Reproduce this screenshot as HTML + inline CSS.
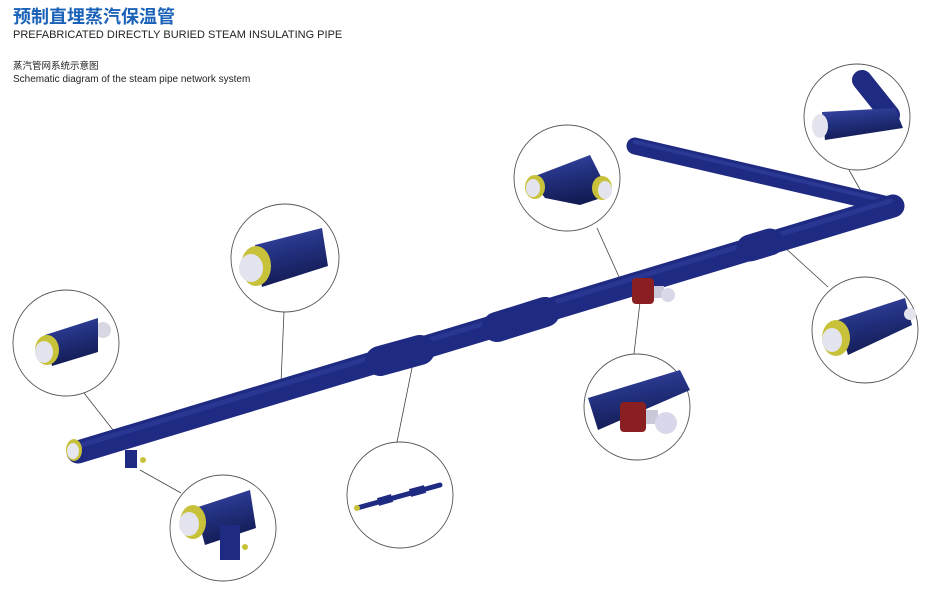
<!DOCTYPE html>
<html><head><meta charset="utf-8"><style>
html,body{margin:0;padding:0;background:#fff;width:934px;height:600px;overflow:hidden}
svg{display:block}
</style></head><body>
<svg width="934" height="600" viewBox="0 0 934 600" xmlns="http://www.w3.org/2000/svg">
<defs>
<linearGradient id="pg" x1="0" y1="0" x2="0.3" y2="1">
<stop offset="0" stop-color="#3a47a8"/><stop offset="0.5" stop-color="#22307e"/><stop offset="1" stop-color="#141c55"/>
</linearGradient>
</defs>
<text x="13" y="23" font-family="'Liberation Sans','Noto Sans CJK SC',sans-serif" font-size="18" font-weight="bold" fill="#1a62b8">预制直埋蒸汽保温管</text>
<text x="13" y="38" font-family="'Liberation Sans',sans-serif" font-size="11" fill="#222">PREFABRICATED DIRECTLY BURIED STEAM INSULATING PIPE</text>
<text x="13" y="69" font-family="'Liberation Sans','Noto Sans CJK SC',sans-serif" font-size="9.5" fill="#222">蒸汽管网系统示意图</text>
<text x="13" y="82" font-family="'Liberation Sans',sans-serif" font-size="10" fill="#222">Schematic diagram of the steam pipe network system</text>

<g stroke="#444" stroke-width="0.8" fill="none">
<line x1="84" y1="393" x2="113" y2="430"/>
<line x1="284" y1="311" x2="281" y2="383"/>
<line x1="597" y1="228" x2="620" y2="279"/>
<line x1="849" y1="170" x2="866" y2="200"/>
<line x1="828" y1="287" x2="782" y2="245"/>
<line x1="634" y1="354" x2="640" y2="302"/>
<line x1="397" y1="442" x2="413" y2="363"/>
<line x1="181" y1="493" x2="140" y2="470"/>
</g>

<g stroke-linecap="round" fill="none">
<line x1="635" y1="146" x2="893" y2="206" stroke="#1f2a82" stroke-width="17"/>
<line x1="635" y1="142" x2="890" y2="202" stroke="#3845a6" stroke-width="4" opacity="0.5"/>
<line x1="78" y1="452" x2="893" y2="206" stroke="#1f2a82" stroke-width="23"/>
<line x1="78" y1="446" x2="890" y2="201" stroke="#3a48aa" stroke-width="5" opacity="0.4"/>
<line x1="380" y1="361" x2="420" y2="350" stroke="#1f2a82" stroke-width="30"/>
<line x1="497" y1="327" x2="545" y2="312" stroke="#1f2a82" stroke-width="30"/>
<line x1="750" y1="248" x2="770" y2="242" stroke="#1f2a82" stroke-width="27"/>
<line x1="131" y1="450" x2="131" y2="468" stroke="#1f2a82" stroke-width="12" stroke-linecap="butt"/>
</g>
<ellipse cx="74" cy="450" rx="8" ry="11" fill="#c8c23a"/>
<ellipse cx="73" cy="451" rx="6" ry="8" fill="#e6e6ee"/>
<circle cx="143" cy="460" r="3" fill="#c8c23a"/>
<rect x="632" y="278" width="22" height="26" rx="4" fill="#8a1f22"/>
<rect x="654" y="286" width="10" height="12" fill="#c8c8d8"/>
<circle cx="668" cy="295" r="7" fill="#d8d8e8"/>

<g fill="#fff" stroke="#555" stroke-width="0.9">
<circle cx="66" cy="343" r="53"/>
<circle cx="285" cy="258" r="54"/>
<circle cx="567" cy="178" r="53"/>
<circle cx="857" cy="117" r="53"/>
<circle cx="865" cy="330" r="53"/>
<circle cx="637" cy="407" r="53"/>
<circle cx="400" cy="495" r="53"/>
<circle cx="223" cy="528" r="53"/>
</g>

<circle cx="103" cy="330" r="8" fill="#d8d8e4"/>
<polygon points="45,335 98,318 98,352 52,366" fill="url(#pg)"/>
<ellipse cx="47" cy="350" rx="12" ry="15" fill="#c8c23a"/>
<ellipse cx="44" cy="352" rx="9" ry="11" fill="#e4e4ee"/>
<polygon points="255,245 322,228 328,266 262,287" fill="url(#pg)"/>
<ellipse cx="256" cy="266" rx="15" ry="20" fill="#c8c23a"/>
<ellipse cx="251" cy="268" rx="12" ry="14" fill="#e4e4ee"/>
<polygon points="530,178 590,155 610,195 580,205 545,198" fill="url(#pg)"/>
<ellipse cx="535" cy="187" rx="10" ry="12" fill="#c8c23a"/>
<ellipse cx="533" cy="188" rx="7" ry="9" fill="#e4e4ee"/>
<ellipse cx="602" cy="188" rx="10" ry="12" fill="#c8c23a"/>
<ellipse cx="605" cy="190" rx="7" ry="9" fill="#e4e4ee"/>
<line x1="862" y1="80" x2="890" y2="115" stroke="#1f2a82" stroke-width="20" stroke-linecap="round"/>
<polygon points="822,112 895,108 903,128 825,140" fill="url(#pg)"/>
<ellipse cx="820" cy="126" rx="8" ry="12" fill="#e4e4ee"/>
<polygon points="838,320 905,298 912,325 848,355" fill="url(#pg)"/>
<ellipse cx="836" cy="338" rx="14" ry="18" fill="#c8c23a"/>
<ellipse cx="832" cy="340" rx="10" ry="12" fill="#e4e4ee"/>
<circle cx="910" cy="314" r="6" fill="#e4e4ee"/>
<polygon points="588,398 680,370 690,390 598,430" fill="url(#pg)"/>
<rect x="620" y="402" width="26" height="30" rx="4" fill="#8a1f22"/>
<rect x="646" y="410" width="12" height="14" fill="#c8c8d8"/>
<circle cx="666" cy="423" r="11" fill="#d8d8ea"/>
<line x1="357" y1="508" x2="440" y2="485" stroke="#1f2a82" stroke-width="5" stroke-linecap="round"/>
<line x1="378" y1="502" x2="392" y2="498" stroke="#1f2a82" stroke-width="8"/>
<line x1="410" y1="493" x2="425" y2="489" stroke="#1f2a82" stroke-width="8"/>
<circle cx="357" cy="508" r="3" fill="#c8c23a"/>
<polygon points="195,508 250,490 256,528 205,545" fill="url(#pg)"/>
<rect x="220" y="525" width="20" height="35" fill="#1f2a82"/>
<circle cx="245" cy="547" r="3" fill="#c8c23a"/>
<ellipse cx="193" cy="522" rx="13" ry="17" fill="#c8c23a"/>
<ellipse cx="189" cy="524" rx="10" ry="12" fill="#e4e4ee"/>
</svg>
</body></html>
